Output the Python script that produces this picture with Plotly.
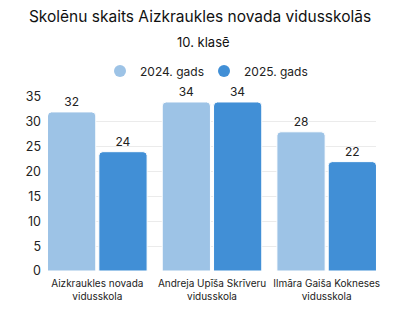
import plotly.graph_objects as go

categories = ["Aizkraukles novada<br>vidusskola", "Andreja Upīša Skrīveru<br>vidusskola", "Ilmāra Gaiša Kokneses<br>vidusskola"]
series_names = ["2024. gads", "2025. gads"]
values_2024 = [32, 34, 28]
values_2025 = [24, 34, 22]
colors = ["#9dc3e6", "#418fd6"]
legend_ids = ["legend", "legend2"]
legend_marker_px = [120, 224]

FONT = "Inter"
fig = go.Figure()
for name, vals, col, lid in zip(series_names, [values_2024, values_2025], colors, legend_ids):
    fig.add_trace(go.Bar(
        x=categories, y=vals, name=name, showlegend=False,
        marker=dict(color=col, line=dict(color="white", width=1), cornerradius=4),
        text=[str(v) for v in vals], textposition="outside",
        textfont=dict(size=12, color="#222"), cliponaxis=False,
    ))
    fig.add_trace(go.Scatter(
        x=[None], y=[None], mode="markers", name=name, legend=lid,
        marker=dict(symbol="circle", size=12, color=col),
    ))

legend_common = dict(orientation="h", xanchor="left", y=(271 - 71) / 174,
                     yanchor="middle", font=dict(size=12, color="#222"),
                     bgcolor="rgba(0,0,0,0)")
fig.update_layout(
    width=400, height=309,
    margin=dict(l=48, r=24, t=97, b=38, autoexpand=False),
    paper_bgcolor="white", plot_bgcolor="white",
    font=dict(family=FONT, color="#222"),
    barmode="group", bargap=0.105, bargroupgap=0.06,
    title=dict(text="Skolēnu skaits Aizkraukles novada vidusskolās",
               x=0.5, xanchor="center", xref="container",
               y=1 - 17 / 309, yanchor="middle", yref="container",
               font=dict(size=15.5, color="#111", family=FONT), automargin=False),
    annotations=[dict(text="10. klasē", xref="paper", yref="paper",
                      x=(203 - 48) / 328, y=(271 - 42) / 174, showarrow=False,
                      xanchor="center", yanchor="middle",
                      font=dict(size=13, color="#111", family=FONT))],
    legend=dict(x=(legend_marker_px[0] - 20 - 48) / 328, **legend_common),
    legend2=dict(x=(legend_marker_px[1] - 20 - 48) / 328, **legend_common),
    showlegend=True,
)
fig.update_yaxes(range=[0, 35], dtick=5, showgrid=True, gridcolor="#ebebeb",
                 gridwidth=1, zeroline=False, showline=False, automargin=False,
                 tickfont=dict(size=12.5, color="#222"), ticks="", ticklabelstandoff=6)
fig.update_xaxes(showgrid=False, showline=False, ticks="", tickangle=0, automargin=False,
                 range=[-0.43, 2.43], ticklabelstandoff=5,
                 tickfont=dict(size=10, color="#222"))
fig.write_html("out.html")
